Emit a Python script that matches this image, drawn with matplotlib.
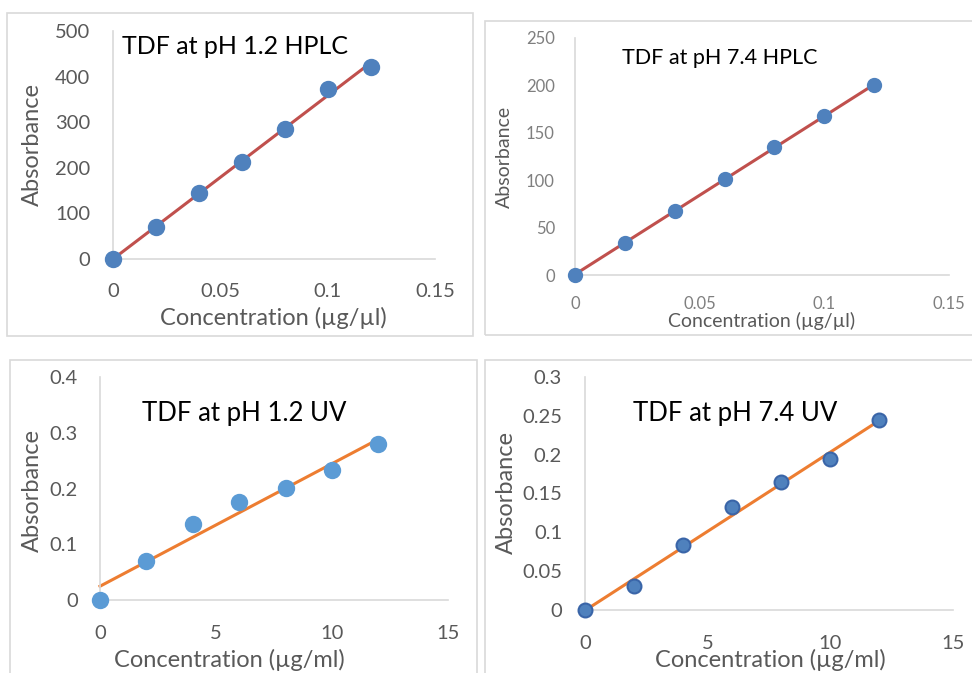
import numpy as np
import matplotlib
matplotlib.use("Agg")
import matplotlib.pyplot as plt
from matplotlib.patches import Rectangle

plt.rcParams['font.family'] = ['Lato', 'DejaVu Sans']

W, H = 972, 673

# data
conc_hplc = [0, 0.02, 0.04, 0.06, 0.08, 0.10, 0.12]
abs_hplc_12 = [0, 70, 144, 213, 285, 372, 421]
abs_hplc_74 = [0, 34, 68, 101, 135, 168, 200]
conc_uv = [0, 2, 4, 6, 8, 10, 12]
abs_uv_12 = [0, 0.070, 0.136, 0.176, 0.201, 0.233, 0.280]
abs_uv_74 = [0, 0.031, 0.084, 0.133, 0.165, 0.194, 0.245]

hplc_xticks = [0, 0.05, 0.1, 0.15]
hplc_xlabels = ['0', '0.05', '0.1', '0.15']
uv_xticks = [0, 5, 10, 15]

fig = plt.figure(figsize=(W / 100, H / 100), dpi=100)


def box(l, t, r, b):
    fig.patches.append(Rectangle((l / W, 1 - b / H), (r - l) / W, (b - t) / H,
                                 transform=fig.transFigure, fill=False,
                                 edgecolor='#d9d9d9', linewidth=1.2))


def panel(l, t, r, b, x, y, xlim, ylim, xticks, xlabels, yticks, ylabels,
          title, tpos, xlab, xlpos, ylpos, line_c, mk_c, mk_edge, mk_size,
          tick_fs, tick_c, title_fs, lab_fs, xtick_pad, ytick_pad):
    ax = fig.add_axes([l / W, 1 - b / H, (r - l) / W, (b - t) / H])
    ax.set_xlim(*xlim)
    ax.set_ylim(*ylim)
    for s in ['top', 'right']:
        ax.spines[s].set_visible(False)
    for s in ['left', 'bottom']:
        ax.spines[s].set_color('#d9d9d9')
        ax.spines[s].set_linewidth(1.2)
    ax.set_xticks(xticks)
    ax.set_xticklabels(xlabels)
    ax.set_yticks(yticks)
    ax.set_yticklabels(ylabels)
    ax.tick_params(axis='both', length=0, labelsize=tick_fs, labelcolor=tick_c)
    ax.tick_params(axis='x', pad=xtick_pad)
    ax.tick_params(axis='y', pad=ytick_pad)
    ax.patch.set_alpha(0)

    # linear trendline
    k, c0 = np.polyfit(x, y, 1)
    xs = np.array([min(x), max(x)])
    ax.plot(xs, k * xs + c0, color=line_c, linewidth=2.2, clip_on=False, zorder=2)
    ax.plot(x, y, 'o', color=mk_c, markersize=mk_size, markeredgecolor=mk_edge,
            markeredgewidth=1.5, clip_on=False, zorder=3)

    fig.text(tpos[0] / W, 1 - tpos[1] / H, title, fontsize=title_fs,
             ha='left', va='center', color='black')
    fig.text(xlpos[0] / W, 1 - xlpos[1] / H, xlab, fontsize=lab_fs,
             ha='center', va='center', color='#595959')
    fig.text(ylpos[0] / W, 1 - ylpos[1] / H, 'Absorbance', fontsize=lab_fs,
             ha='center', va='center', rotation=90, color='#595959')
    return ax


box(7, 13, 473, 336)
box(485, 21, 975, 335)
box(10, 360, 477, 680)
box(485, 360, 975, 680)

panel(113, 31, 435, 259, conc_hplc, abs_hplc_12, (0, 0.15), (0, 500),
      hplc_xticks, hplc_xlabels, [0, 100, 200, 300, 400, 500],
      ['0', '100', '200', '300', '400', '500'],
      'TDF at pH 1.2 HPLC', (122, 47), 'Concentration (µg/µl)', (273, 318),
      (32, 145), '#c0504d', '#4f81bd', '#4f81bd', 11, 14.5, '#595959', 18, 17, 17, 16.5)

panel(575, 38, 949, 275, conc_hplc, abs_hplc_74, (0, 0.15), (0, 250),
      hplc_xticks, hplc_xlabels, [0, 50, 100, 150, 200, 250],
      ['0', '50', '100', '150', '200', '250'],
      'TDF at pH 7.4 HPLC', (622, 58), 'Concentration (µg/µl)', (762, 321),
      (504, 157), '#c0504d', '#4f81bd', '#4f81bd', 9.5, 12, '#7f7f7f', 15.5, 14, 15, 14.5)

panel(100, 377, 448, 600, conc_uv, abs_uv_12, (0, 15), (0, 0.4),
      uv_xticks, ['0', '5', '10', '15'], [0, 0.1, 0.2, 0.3, 0.4],
      ['0', '0.1', '0.2', '0.3', '0.4'],
      'TDF at pH 1.2 UV', (142, 413), 'Concentration (µg/ml)', (229, 660),
      (32, 490), '#ed7d31', '#5b9bd5', '#5b9bd5', 11, 14.5, '#595959', 18.5, 17, 18, 16)

panel(585, 377, 953, 610, conc_uv, abs_uv_74, (0, 15), (0, 0.3),
      uv_xticks, ['0', '5', '10', '15'], [0, 0.05, 0.1, 0.15, 0.2, 0.25, 0.3],
      ['0', '0.05', '0.1', '0.15', '0.2', '0.25', '0.3'],
      'TDF at pH 7.4 UV', (633, 413), 'Concentration (µg/ml)', (770, 660),
      (506, 492), '#ed7d31', '#4f81bd', '#3a65a8', 10, 14.5, '#595959', 18.5, 17, 18, 16.5)

fig.savefig('out.png', dpi=100)
